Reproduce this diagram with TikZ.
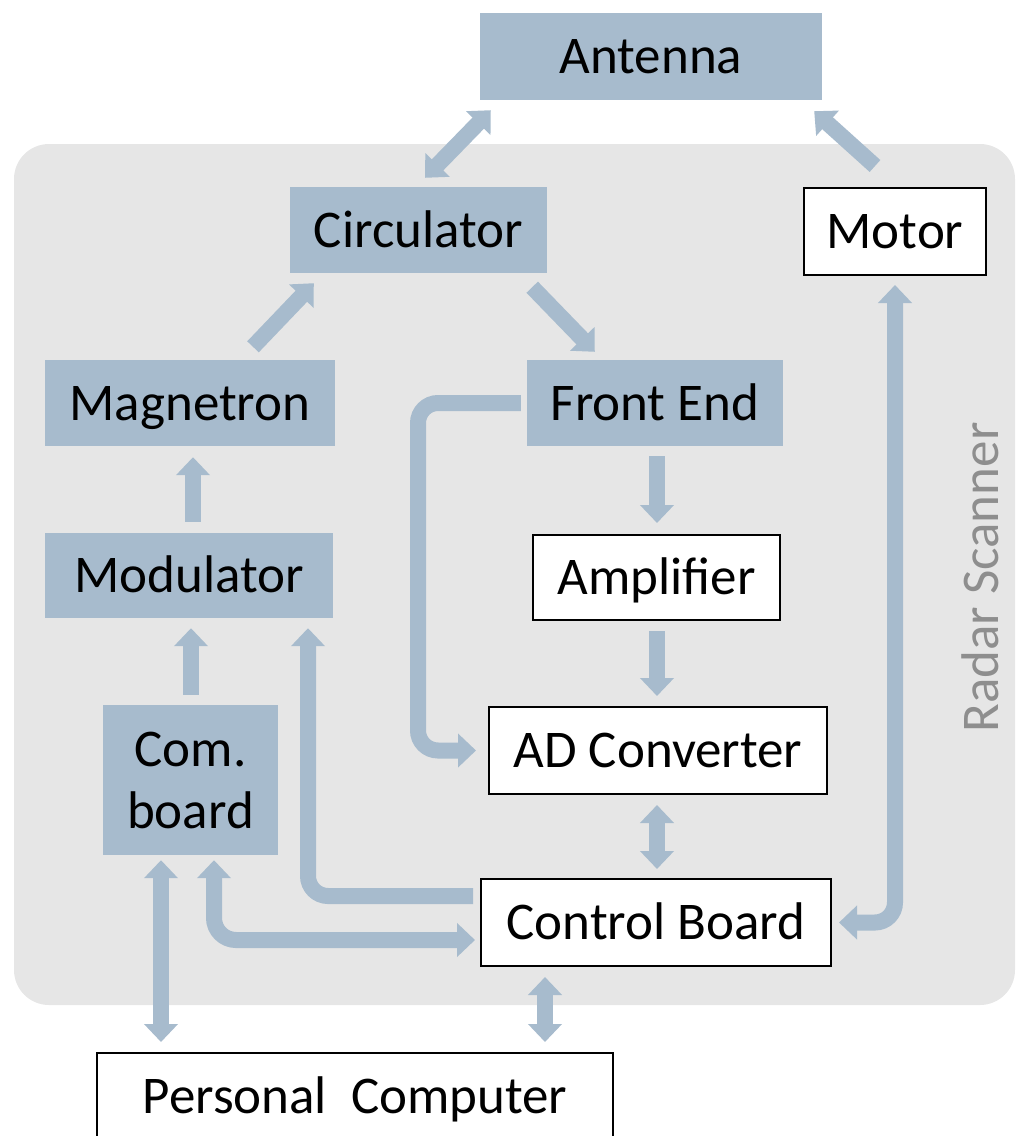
\documentclass[tikz,border=0pt]{standalone}
\usepackage{fontspec}
\setmainfont{Carlito}
\usetikzlibrary{arrows.meta,calc}
\definecolor{boxblue}{HTML}{A7BBCD}
\definecolor{bggray}{HTML}{E6E6E6}
\definecolor{txtgray}{HTML}{8E8E8E}
\begin{document}
\begin{tikzpicture}[x=1pt,y=-1pt,
  basefont/.style={inner sep=0pt, font=\fontsize{53}{62}\selectfont, align=center},
  lbl/.style={basefont, text height=34pt, text depth=0pt},
  bluebox/.style={lbl, fill=boxblue, draw=none},
  whitebox/.style={lbl, fill=white, draw=black, line width=2pt},
  tipA/.tip={Triangle[width=33pt,length=18pt]},
  conn/.style={draw=boxblue, line width=16pt, line cap=butt},
  onearr/.style={conn, -tipA},
  twoarr/.style={conn, tipA-tipA},
]
\useasboundingbox (0,0) rectangle (1019,1136);
\fill[bggray, rounded corners=35pt] (14,144) rectangle (1015,1005);

\node[bluebox, minimum width=342pt, minimum height=87pt] (ant) at (651,56.5) {Antenna};
\node[bluebox, minimum width=257pt, minimum height=86pt] (circ) at (418.5,230) {Circulator};
\node[whitebox, minimum width=182pt, minimum height=87pt] (motor) at (895,231.5) {Motor};
\node[bluebox, minimum width=290pt, minimum height=86pt] (mag) at (190,403) {Magnetron};
\node[bluebox, minimum width=256pt, minimum height=86pt] (fe) at (655,403) {Front End};
\node[bluebox, minimum width=288pt, minimum height=85pt] (mod) at (189,575.5) {Modulator};
\node[whitebox, minimum width=247pt, minimum height=85pt] (amp) at (656.5,577.5) {Amplifier};
\node[basefont, fill=boxblue, minimum width=175pt, minimum height=150pt] (com) at (190.5,780) {Com.\\board};
\node[whitebox, minimum width=338pt, minimum height=87pt] (ad) at (658,750.5) {AD Converter};
\node[whitebox, minimum width=350pt, minimum height=87pt] (ctrl) at (656,922.5) {Control Board};
\node[whitebox, anchor=north, inner ysep=26pt, text depth=60pt, minimum width=516pt] (pc) at (355,1052) {Personal\ \ Computer};
\node[lbl, text=txtgray, rotate=90] (scan) at (981.5,577.5) {Radar Scanner};

% diagonal connectors
\draw[twoarr] ($(ant.south west)+(11,10)$) -- ($(circ.north)+(6.5,-9)$);
\draw[onearr] ($(motor.north)+(-20,-21)$) -- ($(ant.south east)+(-8,11)$);
\draw[onearr] ($(mag.north)+(63,-13)$) -- ($(circ.south west)+(24,10)$);
\draw[onearr] ($(circ.south east)+(-15,14)$) -- ($(fe.north west)+(68,-8)$);

% vertical connectors
\draw[onearr] ($(mod.north)+(4,-11)$) -- ($(mag.south)+(3,11)$);
\draw[onearr] ($(fe.south)+(2,10)$) -- ($(amp.north)+(0.5,-11)$);
\draw[onearr] ($(amp.south)+(0.5,10)$) -- ($(ad.north)+(-1,-10)$);
\draw[twoarr] ($(ad.south)+(-1,10)$) -- ($(ctrl.north)+(1,-9)$);
\draw[onearr] ($(com.north)+(0.5,-10)$) -- ($(mod.south)+(2,10)$);
\draw[twoarr] ($(com.south)+(-29.5,5)$) -- ($(pc.north)+(-194,-10)$);
\draw[twoarr] ($(ctrl.south)+(-111,10)$) -- ($(pc.north)+(190,-10)$);

% bent connectors
\coordinate (feX) at (418,0);
\coordinate (ctrlX) at (308,0);
\coordinate (comY) at (0,940);
\draw[onearr, rounded corners=20pt] ($(fe.west)+(-6,0)$) -| (feX |- ad.west) -- ($(ad.west)+(-12,0)$);
\draw[onearr, rounded corners=20pt] ($(ctrl.west)+(-7,-26.5)$) -| ($(ctrlX |- mod.south)+(0,10)$);
\draw[twoarr, rounded corners=22pt] ($(com.south)+(23.5,5)$) |- ($(comY -| ctrl.west)+(-5,0)$);
\draw[twoarr, rounded corners=20pt] ($(motor.south)+(0,9)$) |- ($(ctrl.east)+(7,0)$);
\end{tikzpicture}
\end{document}
